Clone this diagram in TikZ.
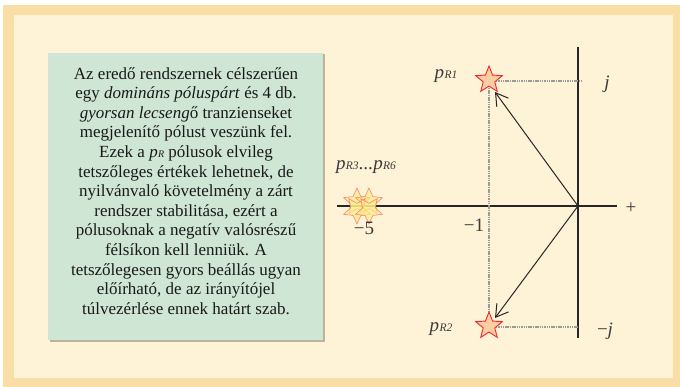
\documentclass[tikz,border=0pt]{standalone}
\usepackage{fontspec}
\setmainfont{Liberation Serif}
\usetikzlibrary{shapes.geometric,arrows.meta}
\definecolor{frameor}{HTML}{F9DEA6}
\definecolor{innerbg}{HTML}{FEF2D7}
\definecolor{boxgreen}{HTML}{CFE6D4}
\definecolor{boxedge}{HTML}{B9B49A}
\definecolor{peach}{HTML}{FBCFA2}
\definecolor{starred}{HTML}{F2262B}
\definecolor{staryel}{HTML}{FFEE88}
\definecolor{labgray}{HTML}{3A3A3A}
\definecolor{dashgray}{HTML}{9A9A9A}
\tikzset{
  bigstar/.style={star, star points=5, star point ratio=2.3, minimum size=28pt, inner sep=0pt, draw=starred, fill=peach, line width=0.9pt},
  smallstar/.style={star, star points=5, star point ratio=2.1, minimum size=28pt, inner sep=0pt, draw=starred!70, fill=staryel, fill opacity=0.65, draw opacity=0.8, line width=0.6pt},
  axisline/.style={draw=black!85, line width=1.2pt},
  guide/.style={draw=dashgray, line width=1.3pt, dash pattern=on 1.5pt off 0.8pt},
  vecarrow/.style={draw=black!85, line width=1pt, -{Straight Barb[length=12pt,width=14.5pt,line width=1pt]}},
  lab/.style={text=labgray, font=\fontsize{19}{21}\selectfont\itshape, inner sep=0pt},
  num/.style={text=labgray, font=\fontsize{19}{21}\selectfont, inner sep=0pt}
}
\newcommand{\psub}[1]{\textit{p}\kern0.3pt{\fontsize{11.5}{12}\selectfont\textit{#1}}}
\newcommand{\tsub}[1]{\textit{p}\kern0.3pt{\fontsize{10}{10}\selectfont\textit{#1}}}
\begin{document}
\begin{tikzpicture}[x=1pt,y=-1pt]
\useasboundingbox (0,0) rectangle (680,387);
\fill[white] (0,0) rectangle (680,387);
\fill[frameor] (3,5) rectangle (680,387);
\fill[innerbg] (14,15) rectangle (673,378);
% text box
\fill[boxedge] (49.5,54.5) rectangle (324.5,341.5);
\node[draw=none, fill=boxgreen, minimum width=275pt, minimum height=287pt, inner sep=0pt, anchor=north west] (box) at (48,53) {};
\node[align=center, inner sep=0pt, font=\fontsize{17}{19.6}\selectfont, text=black!90] (txt) at (186,191) {%
Az eredő rendszernek célszerűen\\
egy \textit{domináns póluspárt} és 4 db.\\
\textit{gyorsan lecseng}ő tranzienseket\\
megjelenítő pólust veszünk fel.\\
Ezek a \tsub{R} pólusok elvileg\\
tetszőleges értékek lehetnek, de\\
nyilvánvaló követelmény a zárt\\
rendszer stabilitása, ezért a\\
pólusoknak a negatív valósrészű\\
félsíkon kell lenniük. A\\
tetszőlegesen gyors beállás ugyan\\
előírható, de az irányítójel\\
túlvezérlése ennek határt szab.};
% axes
\coordinate (O) at (578,206);
\coordinate (ytop) at (578,47);
\coordinate (ybot) at (578,338);
\coordinate (xl) at (337,206);
\coordinate (xr) at (617,206);
\draw[axisline] (ytop) -- (ybot);
\draw[axisline] (xl) -- (xr);
% guides
\coordinate (g1) at (582,81);
\coordinate (g2) at (578,327);
\coordinate (s1c) at (489,81);
\coordinate (s2c) at (489,327);
\draw[guide] (s1c) -- (g1);
\draw[guide] (s2c) -- (g2);
\draw[guide] (s1c) -- (s2c);
% stars
\node[bigstar] (p1) at (489,80) {};
\node[bigstar] (p2) at (489,326) {};
\node[smallstar] (s3) at (357,202) {};
\node[smallstar] (s4) at (369,202) {};
\node[smallstar, shape border rotate=180] (s5) at (357,210) {};
\node[smallstar, shape border rotate=180] (s6) at (369,210) {};
% vectors
\coordinate (t1) at (495,92);
\coordinate (t2) at (495,318);
\draw[vecarrow] (O) -- (t1);
\draw[vecarrow] (O) -- (t2);
% labels
\node[lab] (l1) at (446,76) {\psub{R1}};
\node[lab] (l2) at (441,329) {\psub{R2}};
\node[lab] (l3) at (366,167) {\psub{R3}\kern0.5pt...\psub{R6}};
\node[lab] (lj) at (607,84) {j};
\node[lab] (lmj) at (605,331) {\upshape−\itshape j};
\node[num] (lplus) at (631,208) {+};
\node[num] (lm1) at (474,225) {−1};
\node[num] (lm5) at (364,228) {−5};
\end{tikzpicture}
\end{document}
